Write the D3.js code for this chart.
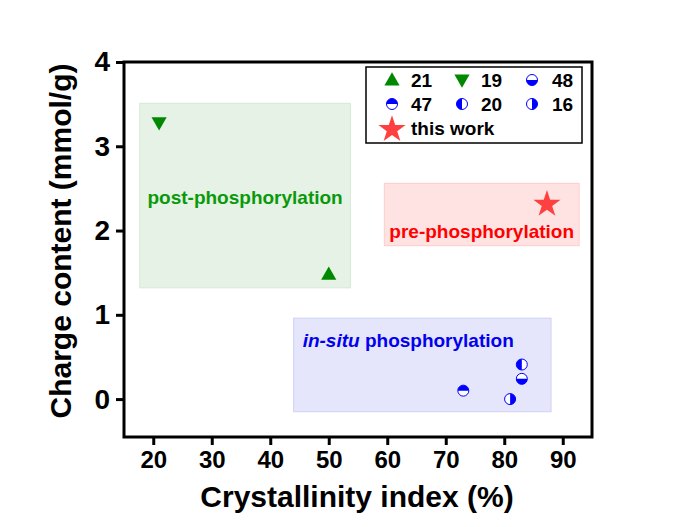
<!DOCTYPE html>
<html>
<head>
<meta charset="utf-8">
<script src="https://cdn.jsdelivr.net/npm/d3@7"></script>
<style>
  html, body { margin: 0; padding: 0; background: #fff; }
  svg { display: block; font-family: Arial, "Liberation Sans", sans-serif; }
</style>
</head>
<body>
<svg id="chart" width="688" height="527"></svg>
<script>
// ---- data -------------------------------------------------------------------
const pointLabels = ['21', '19', '48', '47', '20', '16', 'this work'];
const pointX      = [50, 21, 83, 73, 83, 81, 87.3];
const pointY      = [1.48, 3.28, 0.24, 0.10, 0.41, 0.0, 2.33];

const regionNames = ['post-phosphorylation', 'pre-phosphorylation', 'in-situ phosphorylation'];
const regionX0    = [17.7, 59.5, 44.0];
const regionX1    = [53.7, 92.8, 88.0];
const regionY0    = [1.32, 1.82, -0.15];
const regionY1    = [3.51, 2.56, 0.96];

const xTicks = [20, 30, 40, 50, 60, 70, 80, 90];
const yTicks = [0, 1, 2, 3, 4];

// ---- styles -----------------------------------------------------------------
const GREEN = '#008800', RED = '#ff4040', BLUE = '#0000ff';
const markerStyle = {
  '21':        { kind: 'tri-up',   color: GREEN },
  '19':        { kind: 'tri-down', color: GREEN },
  '48':        { kind: 'half', half: 'bottom', color: BLUE },
  '47':        { kind: 'half', half: 'top',    color: BLUE },
  '20':        { kind: 'half', half: 'left',   color: BLUE },
  '16':        { kind: 'half', half: 'right',  color: BLUE },
  'this work': { kind: 'star', color: RED }
};
const regionStyle = [
  { fill: '#e5f2e5', stroke: '#d3ead3', text: '#0a990a' },
  { fill: '#ffe3e3', stroke: '#ffcccc', text: '#ff0000' },
  { fill: '#e5e5fb', stroke: '#d0d0f6', text: '#0000ee' }
];

// ---- layout -----------------------------------------------------------------
const svg = d3.select('#chart');
const M = { left: 124, right: 592, top: 62, bottom: 437 };
const x = d3.scaleLinear().domain([15, 95]).range([M.left, M.right]);
const y = d3.scaleLinear().domain([-0.45, 4]).range([M.bottom, M.top]);

// ---- shaded regions ---------------------------------------------------------
const regions = svg.append('g');
regionNames.forEach((name, i) => {
  const st = regionStyle[i];
  const x0 = x(regionX0[i]), x1 = x(regionX1[i]);
  const y0 = y(regionY1[i]), y1 = y(regionY0[i]);
  regions.append('rect')
    .attr('x', x0).attr('y', y0)
    .attr('width', x1 - x0).attr('height', y1 - y0)
    .attr('fill', st.fill).attr('stroke', st.stroke).attr('stroke-width', 1);
});

// ---- markers ----------------------------------------------------------------
function drawMarker(g, cx, cy, style) {
  if (style.kind === 'tri-up' || style.kind === 'tri-down') {
    const down = style.kind === 'tri-down';
    g.append('path')
      .attr('d', d3.symbol(d3.symbolTriangle, 100)())
      .attr('transform', `translate(${cx},${cy + (down ? -1 : 1)})${down ? ' rotate(180)' : ''}`)
      .attr('fill', style.color);
  } else if (style.kind === 'star') {
    g.append('path')
      .attr('d', d3.symbol(d3.symbolStar, 230)())
      .attr('transform', `translate(${cx},${cy + 1.5})`)
      .attr('fill', style.color);
  } else {
    const r = 5.5;
    const start = { top: -Math.PI / 2, bottom: Math.PI / 2, left: Math.PI, right: 0 }[style.half];
    g.append('circle').attr('cx', cx).attr('cy', cy).attr('r', r)
      .attr('fill', '#fff').attr('stroke', style.color).attr('stroke-width', 1);
    g.append('path')
      .attr('d', d3.arc()({ innerRadius: 0, outerRadius: r,
        startAngle: start, endAngle: start + Math.PI }))
      .attr('transform', `translate(${cx},${cy})`)
      .attr('fill', style.color);
  }
}

const marks = svg.append('g');
pointLabels.forEach((lab, i) => {
  drawMarker(marks, x(pointX[i]), y(pointY[i]), markerStyle[lab]);
});

// ---- region labels ----------------------------------------------------------
regionNames.forEach((name, i) => {
  const st = regionStyle[i];
  const cx = (x(regionX0[i]) + x(regionX1[i])) / 2;
  const t = svg.append('text')
    .attr('font-size', 19).attr('font-weight', 'bold').attr('fill', st.text);
  if (i === 2) {
    t.attr('x', x(regionX0[i]) + 9).attr('y', y(regionY1[i]) + 29);
    t.append('tspan').attr('font-style', 'italic').text('in-situ');
    t.append('tspan').text(' phosphorylation');
  } else {
    t.attr('x', cx).attr('y', i === 0 ? 204 : 238).attr('text-anchor', 'middle').text(name);
  }
});

// ---- axes -------------------------------------------------------------------
svg.append('rect')
  .attr('x', M.left).attr('y', M.top)
  .attr('width', M.right - M.left).attr('height', M.bottom - M.top)
  .attr('fill', 'none').attr('stroke', '#000').attr('stroke-width', 3);

const xAxis = svg.append('g').attr('transform', `translate(0,${M.bottom})`)
  .call(d3.axisBottom(x).tickValues(xTicks).tickFormat(d3.format('d'))
    .tickSize(8).tickPadding(6).tickSizeOuter(0));
const yAxis = svg.append('g').attr('transform', `translate(${M.left},0)`)
  .call(d3.axisLeft(y).tickValues(yTicks).tickFormat(d3.format('d'))
    .tickSize(8).tickPadding(6).tickSizeOuter(0));
[xAxis, yAxis].forEach(a => {
  a.select('.domain').remove();
  a.selectAll('.tick line').attr('stroke', '#000').attr('stroke-width', 3);
  a.selectAll('.tick text').attr('fill', '#000')
    .attr('font-family', 'Arial, "Liberation Sans", sans-serif')
    .attr('font-weight', 'bold');
});
xAxis.selectAll('.tick text').attr('font-size', 24);
yAxis.selectAll('.tick text').attr('font-size', 28);

svg.append('text')
  .attr('x', 357).attr('y', 507)
  .attr('text-anchor', 'middle').attr('font-size', 30).attr('font-weight', 'bold')
  .text('Crystallinity index (%)');

svg.append('text')
  .attr('transform', `translate(71,241) rotate(-90)`)
  .attr('text-anchor', 'middle').attr('font-size', 30).attr('font-weight', 'bold')
  .text('Charge content (mmol/g)');

// ---- legend -----------------------------------------------------------------
const legend = svg.append('g');
legend.append('rect')
  .attr('x', 366).attr('y', 67).attr('width', 216).attr('height', 76)
  .attr('fill', '#fff').attr('stroke', '#000').attr('stroke-width', 1.5);
const colSym = [392, 462, 532], colTxt = [411, 481, 552], rowY = [80, 104, 128];
pointLabels.forEach((lab, i) => {
  const r = Math.floor(i / 3), c = i % 3;
  drawMarker(legend, colSym[c], rowY[r], markerStyle[lab]);
  legend.append('text')
    .attr('x', colTxt[c]).attr('y', rowY[r] + 7)
    .attr('font-size', 19).attr('font-weight', 'bold')
    .text(lab);
});
</script>
</body>
</html>
